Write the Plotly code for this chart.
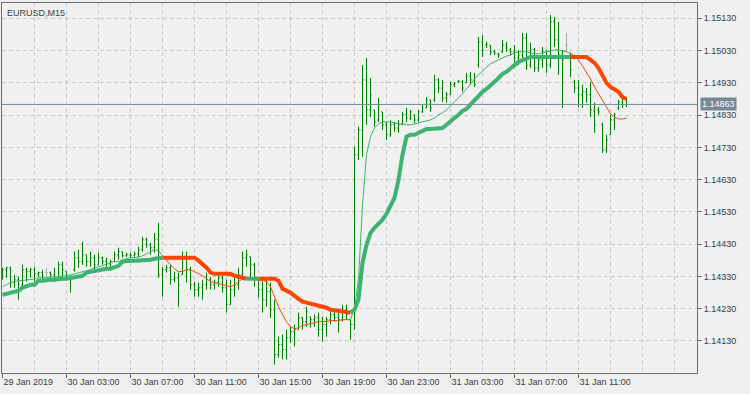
import plotly.graph_objects as go
import pandas as pd

symbol_label = "EURUSD,M15"
bar_start = "2019-01-29 23:00"
bar_freq = "15min"

open_ = [
    1.14335, 1.14351, 1.14357, 1.14311, 1.14320, 1.14304, 1.14351, 1.14345, 1.14351, 1.14338,
    1.14342, 1.14342, 1.14342, 1.14335, 1.14326, 1.14366, 1.14345, 1.14326, 1.14351, 1.14388,
    1.14376, 1.14397, 1.14376, 1.14388, 1.14366, 1.14388, 1.14376, 1.14369, 1.14376, 1.14397,
    1.14407, 1.14394, 1.14397, 1.14394, 1.14400, 1.14413, 1.14444, 1.14428, 1.14419, 1.14444,
    1.14335, 1.14351, 1.14357, 1.14320, 1.14326, 1.14335, 1.14388, 1.14351, 1.14304, 1.14289,
    1.14295, 1.14304, 1.14320, 1.14304, 1.14311, 1.14326, 1.14295, 1.14242, 1.14289, 1.14304,
    1.14335, 1.14388, 1.14391, 1.14366, 1.14320, 1.14289, 1.14258, 1.14283, 1.14227, 1.14088,
    1.14119, 1.14103, 1.14140, 1.14159, 1.14165, 1.14202, 1.14190, 1.14205, 1.14196, 1.14202,
    1.14165, 1.14181, 1.14196, 1.14212, 1.14202, 1.14196, 1.14227, 1.14196, 1.14181, 1.14707,
    1.14784, 1.14939, 1.14846, 1.14846, 1.14815, 1.14840, 1.14800, 1.14769, 1.14800, 1.14790,
    1.14800, 1.14831, 1.14821, 1.14831, 1.14815, 1.14840, 1.14852, 1.14877, 1.14877, 1.14939,
    1.14914, 1.14883, 1.14893, 1.14924, 1.14933, 1.14933, 1.14930, 1.14951, 1.14939, 1.14985,
    1.15057, 1.15047, 1.15047, 1.15026, 1.15020, 1.15026, 1.15047, 1.15032, 1.15026, 1.15007,
    1.15016, 1.15069, 1.14985, 1.15032, 1.14976, 1.15001, 1.15026, 1.14985, 1.15119, 1.15063,
    1.15016, 1.15047, 1.15016, 1.14933, 1.14914, 1.14893, 1.14902, 1.14893, 1.14846, 1.14846,
    1.14800, 1.14722, 1.14769, 1.14815, 1.14852, 1.14871, 1.14862,
]
high = [
    1.14357, 1.14360, 1.14360, 1.14335, 1.14329, 1.14366, 1.14357, 1.14357, 1.14360, 1.14345,
    1.14351, 1.14357, 1.14345, 1.14357, 1.14376, 1.14376, 1.14345, 1.14335, 1.14407, 1.14413,
    1.14438, 1.14397, 1.14407, 1.14397, 1.14404, 1.14391, 1.14388, 1.14382, 1.14407, 1.14419,
    1.14407, 1.14404, 1.14404, 1.14407, 1.14422, 1.14453, 1.14450, 1.14434, 1.14465, 1.14496,
    1.14360, 1.14366, 1.14366, 1.14345, 1.14342, 1.14407, 1.14407, 1.14360, 1.14314, 1.14311,
    1.14320, 1.14342, 1.14329, 1.14320, 1.14342, 1.14335, 1.14320, 1.14320, 1.14329, 1.14357,
    1.14407, 1.14413, 1.14391, 1.14372, 1.14320, 1.14314, 1.14320, 1.14311, 1.14258, 1.14143,
    1.14150, 1.14165, 1.14174, 1.14181, 1.14218, 1.14205, 1.14236, 1.14205, 1.14212, 1.14218,
    1.14205, 1.14205, 1.14221, 1.14227, 1.14221, 1.14242, 1.14242, 1.14196, 1.14732, 1.14794,
    1.14985, 1.15007, 1.14945, 1.14846, 1.14883, 1.14840, 1.14809, 1.14815, 1.14809, 1.14815,
    1.14840, 1.14852, 1.14846, 1.14831, 1.14846, 1.14862, 1.14886, 1.14877, 1.14955, 1.14945,
    1.14939, 1.14902, 1.14933, 1.14933, 1.14939, 1.14939, 1.14961, 1.14964, 1.14961, 1.15072,
    1.15078, 1.15057, 1.15047, 1.15032, 1.15023, 1.15063, 1.15057, 1.15038, 1.15047, 1.15032,
    1.15085, 1.15085, 1.15054, 1.15038, 1.15016, 1.15041, 1.15032, 1.15140, 1.15134, 1.15119,
    1.15032, 1.15085, 1.15023, 1.14939, 1.14939, 1.14924, 1.14914, 1.14933, 1.14868, 1.14855,
    1.14806, 1.14769, 1.14831, 1.14837, 1.14877, 1.14893, 1.14883,
]
low = [
    1.14320, 1.14326, 1.14295, 1.14295, 1.14258, 1.14298, 1.14314, 1.14326, 1.14314, 1.14329,
    1.14311, 1.14329, 1.14326, 1.14314, 1.14320, 1.14329, 1.14320, 1.14280, 1.14345, 1.14357,
    1.14366, 1.14360, 1.14360, 1.14345, 1.14366, 1.14366, 1.14360, 1.14351, 1.14376, 1.14382,
    1.14388, 1.14391, 1.14388, 1.14391, 1.14388, 1.14407, 1.14419, 1.14397, 1.14404, 1.14326,
    1.14267, 1.14342, 1.14304, 1.14311, 1.14236, 1.14335, 1.14311, 1.14289, 1.14267, 1.14267,
    1.14258, 1.14289, 1.14289, 1.14289, 1.14298, 1.14280, 1.14218, 1.14242, 1.14267, 1.14289,
    1.14326, 1.14360, 1.14320, 1.14298, 1.14264, 1.14218, 1.14236, 1.14202, 1.14057, 1.14079,
    1.14073, 1.14073, 1.14125, 1.14113, 1.14165, 1.14165, 1.14174, 1.14171, 1.14174, 1.14143,
    1.14128, 1.14143, 1.14181, 1.14190, 1.14156, 1.14190, 1.14196, 1.14134, 1.14165, 1.14691,
    1.14701, 1.14800, 1.14824, 1.14794, 1.14809, 1.14784, 1.14753, 1.14763, 1.14778, 1.14775,
    1.14800, 1.14809, 1.14815, 1.14806, 1.14809, 1.14837, 1.14852, 1.14840, 1.14871, 1.14899,
    1.14871, 1.14868, 1.14893, 1.14917, 1.14930, 1.14902, 1.14930, 1.14924, 1.14917, 1.14976,
    1.15010, 1.15038, 1.15016, 1.15016, 1.15007, 1.15023, 1.15026, 1.15016, 1.14992, 1.14985,
    1.15001, 1.14970, 1.14976, 1.14964, 1.14964, 1.14976, 1.14961, 1.14976, 1.15041, 1.14955,
    1.14852, 1.15026, 1.14948, 1.14899, 1.14855, 1.14852, 1.14868, 1.14824, 1.14775, 1.14831,
    1.14713, 1.14713, 1.14769, 1.14784, 1.14846, 1.14852, 1.14855,
]
close = [
    1.14351, 1.14357, 1.14311, 1.14320, 1.14304, 1.14351, 1.14345, 1.14351, 1.14338, 1.14342,
    1.14332, 1.14342, 1.14335, 1.14326, 1.14366, 1.14351, 1.14326, 1.14320, 1.14388, 1.14376,
    1.14397, 1.14376, 1.14388, 1.14366, 1.14388, 1.14376, 1.14369, 1.14376, 1.14397, 1.14407,
    1.14394, 1.14397, 1.14394, 1.14400, 1.14413, 1.14444, 1.14428, 1.14419, 1.14444, 1.14335,
    1.14351, 1.14357, 1.14320, 1.14326, 1.14304, 1.14388, 1.14351, 1.14304, 1.14289, 1.14295,
    1.14304, 1.14320, 1.14304, 1.14311, 1.14326, 1.14295, 1.14242, 1.14289, 1.14304, 1.14335,
    1.14388, 1.14397, 1.14366, 1.14320, 1.14289, 1.14258, 1.14283, 1.14227, 1.14088, 1.14119,
    1.14103, 1.14140, 1.14159, 1.14165, 1.14202, 1.14190, 1.14221, 1.14196, 1.14202, 1.14165,
    1.14181, 1.14196, 1.14212, 1.14202, 1.14196, 1.14227, 1.14212, 1.14181, 1.14707, 1.14784,
    1.14939, 1.14846, 1.14893, 1.14809, 1.14862, 1.14800, 1.14769, 1.14800, 1.14790, 1.14800,
    1.14831, 1.14821, 1.14840, 1.14815, 1.14840, 1.14852, 1.14877, 1.14852, 1.14939, 1.14914,
    1.14883, 1.14893, 1.14924, 1.14927, 1.14936, 1.14914, 1.14951, 1.14939, 1.14924, 1.15057,
    1.15032, 1.15050, 1.15026, 1.15023, 1.15016, 1.15047, 1.15038, 1.15026, 1.15007, 1.15016,
    1.15069, 1.14985, 1.15032, 1.14976, 1.15001, 1.15026, 1.14985, 1.15119, 1.15063, 1.15016,
    1.15001, 1.15047, 1.14970, 1.14914, 1.14893, 1.14902, 1.14893, 1.14846, 1.14800, 1.14840,
    1.14722, 1.14753, 1.14815, 1.14831, 1.14871, 1.14862, 1.14863,
]

# slow (thick) indicator line
slow_line = [
    1.14273, 1.14277, 1.14280, 1.14283, 1.14286, 1.14295, 1.14301, 1.14304, 1.14304, 1.14317,
    1.14317, 1.14320, 1.14320, 1.14320, 1.14323, 1.14323, 1.14323, 1.14326, 1.14326, 1.14329,
    1.14332, 1.14342, 1.14345, 1.14348, 1.14351, 1.14351, 1.14354, 1.14354, 1.14357, 1.14363,
    1.14376, 1.14379, 1.14379, 1.14379, 1.14379, 1.14379, 1.14379, 1.14382, 1.14385, 1.14388,
    1.14388, 1.14388, 1.14388, 1.14388, 1.14388, 1.14388, 1.14388, 1.14388, 1.14388, 1.14379,
    1.14369, 1.14357, 1.14342, 1.14338, 1.14338, 1.14338, 1.14338, 1.14338, 1.14332, 1.14329,
    1.14323, 1.14323, 1.14323, 1.14323, 1.14323, 1.14323, 1.14323, 1.14323, 1.14323, 1.14317,
    1.14292, 1.14286, 1.14280, 1.14270, 1.14261, 1.14252, 1.14249, 1.14246, 1.14242, 1.14239,
    1.14236, 1.14233, 1.14227, 1.14227, 1.14224, 1.14221, 1.14218, 1.14218, 1.14227, 1.14258,
    1.14372, 1.14428, 1.14465, 1.14481, 1.14493, 1.14506, 1.14524, 1.14546, 1.14574, 1.14629,
    1.14707, 1.14763, 1.14769, 1.14769, 1.14775, 1.14784, 1.14787, 1.14787, 1.14787, 1.14787,
    1.14790, 1.14800, 1.14812, 1.14821, 1.14831, 1.14843, 1.14849, 1.14862, 1.14877, 1.14889,
    1.14902, 1.14911, 1.14924, 1.14933, 1.14945, 1.14958, 1.14964, 1.14973, 1.14985, 1.14995,
    1.15001, 1.15007, 1.15010, 1.15010, 1.15010, 1.15010, 1.15010, 1.15010, 1.15010, 1.15010,
    1.15010, 1.15010, 1.15010, 1.15010, 1.15010, 1.15010, 1.15010, 1.15001, 1.14992, 1.14976,
    1.14955, 1.14930, 1.14917, 1.14911, 1.14902, 1.14886, 1.14880,
]
# fast (thin) indicator line
fast_line = [
    1.14298, 1.14304, 1.14311, 1.14314, 1.14317, 1.14317, 1.14320, 1.14320, 1.14323, 1.14326,
    1.14326, 1.14326, 1.14329, 1.14329, 1.14329, 1.14332, 1.14332, 1.14335, 1.14338, 1.14342,
    1.14345, 1.14348, 1.14351, 1.14357, 1.14360, 1.14363, 1.14369, 1.14372, 1.14376, 1.14376,
    1.14382, 1.14385, 1.14388, 1.14388, 1.14391, 1.14394, 1.14400, 1.14407, 1.14413, 1.14410,
    1.14394, 1.14379, 1.14366, 1.14354, 1.14345, 1.14345, 1.14351, 1.14351, 1.14345, 1.14338,
    1.14332, 1.14323, 1.14314, 1.14311, 1.14308, 1.14304, 1.14301, 1.14298, 1.14304, 1.14314,
    1.14323, 1.14326, 1.14326, 1.14323, 1.14320, 1.14317, 1.14314, 1.14298, 1.14267, 1.14236,
    1.14212, 1.14190, 1.14174, 1.14168, 1.14171, 1.14178, 1.14181, 1.14184, 1.14187, 1.14190,
    1.14190, 1.14190, 1.14193, 1.14193, 1.14193, 1.14196, 1.14196, 1.14196, 1.14233, 1.14320,
    1.14552, 1.14707, 1.14763, 1.14790, 1.14803, 1.14809, 1.14809, 1.14809, 1.14806, 1.14803,
    1.14803, 1.14800, 1.14800, 1.14803, 1.14806, 1.14809, 1.14812, 1.14815, 1.14821, 1.14831,
    1.14837, 1.14846, 1.14859, 1.14871, 1.14883, 1.14896, 1.14911, 1.14927, 1.14942, 1.14955,
    1.14967, 1.14979, 1.14989, 1.14995, 1.15001, 1.15007, 1.15013, 1.15016, 1.15023, 1.15026,
    1.15026, 1.15026, 1.15023, 1.15020, 1.15020, 1.15023, 1.15026, 1.15029, 1.15032, 1.15032,
    1.15029, 1.15026, 1.15023, 1.15013, 1.15001, 1.14982, 1.14964, 1.14942, 1.14917, 1.14896,
    1.14874, 1.14852, 1.14834, 1.14824, 1.14818, 1.14818, 1.14821,
]
# trend state runs (state, number of bars)
slow_runs = [("up", 40), ("down", 21), ("up", 3), ("down", 23), ("up", 55), ("down", 15)]
fast_runs = [("up", 40), ("down", 47), ("up", 55), ("down", 15)]

x_tick_times = ["2019-01-29 23:00", "2019-01-30 03:00", "2019-01-30 07:00", "2019-01-30 11:00",
                "2019-01-30 15:00", "2019-01-30 19:00", "2019-01-30 23:00", "2019-01-31 03:00",
                "2019-01-31 07:00", "2019-01-31 11:00"]
x_tick_labels = ["29 Jan 2019", "30 Jan 03:00", "30 Jan 07:00", "30 Jan 11:00", "30 Jan 15:00",
                 "30 Jan 19:00", "30 Jan 23:00", "31 Jan 03:00", "31 Jan 07:00", "31 Jan 11:00"]
y_tick_values = [1.14130, 1.14230, 1.14330, 1.14430, 1.14530, 1.14630,
                 1.14730, 1.14830, 1.14930, 1.15030, 1.15130]
y_tick_labels = ["1.14130", "1.14230", "1.14330", "1.14430", "1.14530", "1.14630",
                 "1.14730", "1.14830", "1.14930", "1.15030", "1.15130"]
last_price = 1.14863
last_price_label = "1.14863"

BAR = "#008000"
DOJI = "#A8A8A8"
UP = "#3CB371"
DOWN = "#FF4500"
BG = "#F0F0F0"
GRID = "#C8C8C8"
AXIS = "#6E6E6E"
TEXT = "#3C3C3C"
PRICE = "#778899"
FONT = "Liberation Sans, Arial, sans-serif"

times = pd.date_range(bar_start, periods=len(close), freq=bar_freq)
is_doji = [o == c for o, c in zip(open_, close)]

fig = go.Figure()

def pick(seq, keep):
    return [v for v, k in zip(seq, keep) if k]

normal = [not d for d in is_doji]
for keep, col in ((normal, BAR), (is_doji, DOJI)):
    fig.add_trace(go.Ohlc(
        x=pick(times, keep), open=pick(open_, keep), high=pick(high, keep),
        low=pick(low, keep), close=pick(close, keep),
        increasing=dict(line=dict(color=col, width=1)),
        decreasing=dict(line=dict(color=col, width=1)),
        tickwidth=0.3, hoverinfo="skip", showlegend=False))

def add_runs(values, runs, width):
    start = 0
    for state, n in runs:
        end = min(start + n, len(values) - 1)
        fig.add_trace(go.Scatter(
            x=times[start:end + 1], y=values[start:end + 1], mode="lines",
            line=dict(color=UP if state == "up" else DOWN, width=width),
            hoverinfo="skip", showlegend=False))
        start += n

add_runs(fast_line, fast_runs, 1)
add_runs(slow_line, slow_runs, 4)

grid_times = pd.date_range("2019-01-29 23:00", "2019-01-31 17:00", freq="2h")

fig.add_shape(type="line", xref="paper", x0=0, x1=1, yref="y", y0=last_price, y1=last_price,
              line=dict(color=PRICE, width=1), layer="above")

fig.add_annotation(xref="paper", x=1, xanchor="left", xshift=3, yref="y", y=last_price,
                   text=last_price_label, showarrow=False, bgcolor=PRICE,
                   font=dict(family=FONT, size=9, color="#FFFFFF"), borderpad=1)
fig.add_annotation(xref="paper", x=0, xanchor="left", xshift=3, yref="paper", y=1,
                   yanchor="top", yshift=-3, text=symbol_label, showarrow=False,
                   font=dict(family=FONT, size=9, color=TEXT))

fig.update_layout(
    width=750, height=394,
    margin=dict(l=2, r=53, t=3, b=21, pad=0),
    paper_bgcolor=BG, plot_bgcolor=BG,
    hovermode=False, showlegend=False,
    font=dict(family=FONT, size=9, color=TEXT),
    xaxis=dict(
        type="date",
        range=["2019-01-29 22:58:07", "2019-01-31 18:24:22"],
        rangeslider=dict(visible=False),
        tickvals=x_tick_times, ticktext=x_tick_labels,
        ticks="outside", ticklen=4, tickcolor=AXIS, tickwidth=1,
        ticklabelposition="outside right",
        showline=True, linecolor=AXIS, linewidth=1, mirror=True,
        showgrid=True, gridcolor=GRID, griddash="4px,3px", gridwidth=1,
        minor=dict(tickvals=list(grid_times), showgrid=True, gridcolor=GRID,
                   griddash="4px,3px", gridwidth=1, ticks=""),
        zeroline=False, fixedrange=True,
        tickfont=dict(family=FONT, size=9, color=TEXT),
    ),
    yaxis=dict(
        side="right",
        range=[1.140308, 1.151774],
        tickvals=y_tick_values, ticktext=y_tick_labels,
        ticks="outside", ticklen=4, tickcolor=AXIS, tickwidth=1,
        showline=True, linecolor=AXIS, linewidth=1, mirror=True,
        showgrid=True, gridcolor=GRID, griddash="4px,3px", gridwidth=1,
        zeroline=False, fixedrange=True,
        tickfont=dict(family=FONT, size=9, color=TEXT),
    ),
)

fig.write_html(
    "out.html",
    config={"displayModeBar": False},
    post_script="document.body.style.margin='0';document.body.style.overflow='hidden';",
)
